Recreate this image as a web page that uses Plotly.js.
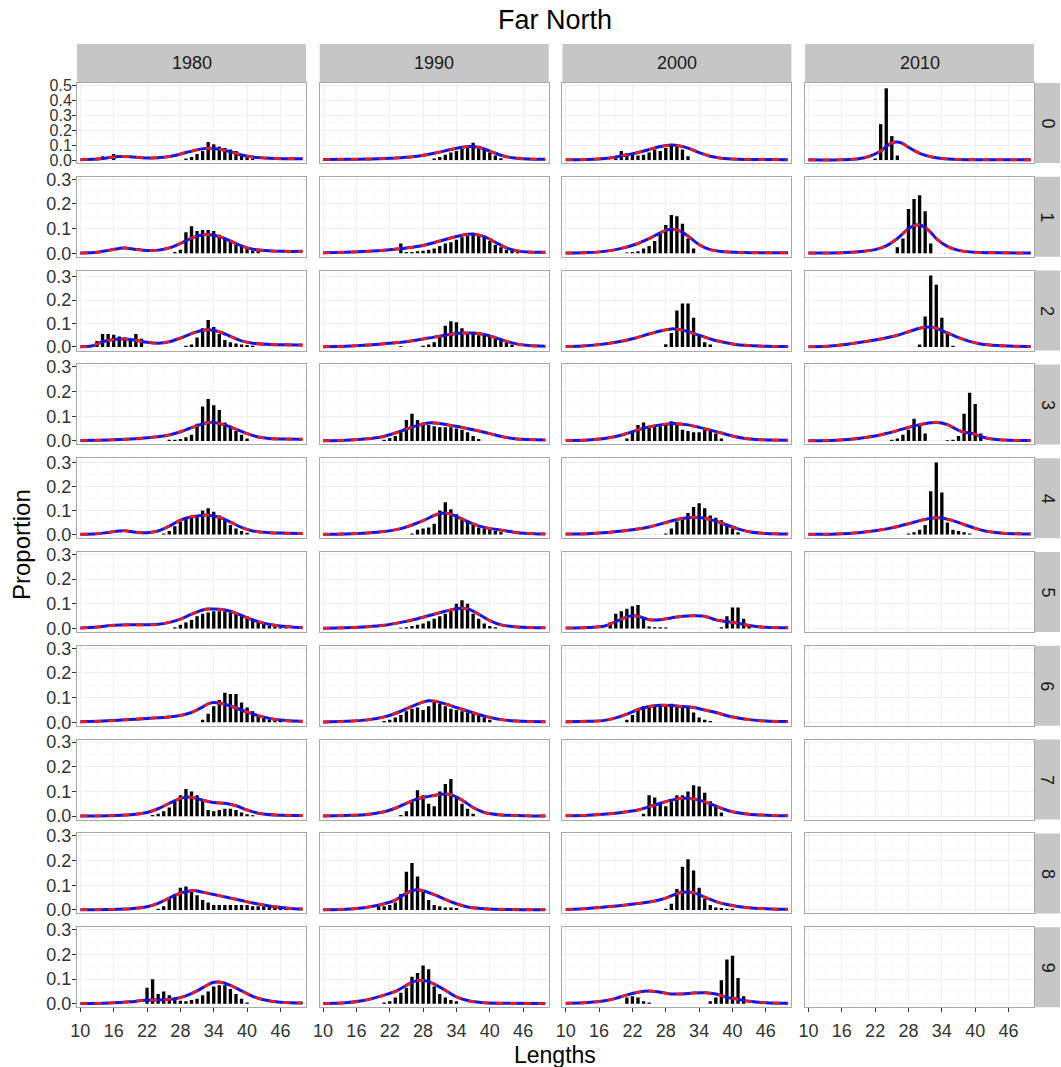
<!DOCTYPE html>
<html><head><meta charset="utf-8">
<script src="https://cdn.plot.ly/plotly-3.0.1.min.js"></script>
<style>html,body{margin:0;padding:0;background:#fff}</style>
</head><body><div id="chart" style="width:1061px;height:1067px"></div>
<script>
const years = ['1980','1990','2000','2010'];
const ages = ['0','1','2','3','4','5','6','7','8','9'];
const xTicks = [10,16,22,28,34,40,46];

// observed proportions: [length, proportion]
const bars_1980_0 = [[14,0.025],[16,0.04],[29,0.01],[30,0.02],[31,0.04],[32,0.06],[33,0.12],[34,0.105],[35,0.09],[36,0.08],[37,0.07],[38,0.06],[39,0.04],[40,0.02],[41,0.01]];
const bars_1990_0 = [[30,0.01],[31,0.02],[32,0.035],[33,0.05],[34,0.06],[35,0.075],[36,0.09],[37,0.115],[38,0.09],[39,0.07],[40,0.05],[41,0.03],[42,0.012]];
const bars_2000_0 = [[19,0.01],[20,0.06],[21,0.045],[22,0.04],[23,0.03],[24,0.035],[25,0.05],[26,0.07],[27,0.06],[28,0.08],[29,0.1],[30,0.09],[31,0.07],[32,0.025]];
const bars_2010_0 = [[22,0.01],[23,0.24],[24,0.48],[25,0.16],[26,0.03]];
const bars_1980_1 = [[27,0.005],[28,0.015],[29,0.085],[30,0.11],[31,0.09],[32,0.095],[33,0.095],[34,0.09],[35,0.075],[36,0.06],[37,0.05],[38,0.04],[39,0.03],[40,0.02],[41,0.012],[42,0.008]];
const bars_1990_1 = [[24,0.04],[25,0.005],[26,0.005],[27,0.008],[28,0.01],[29,0.015],[30,0.02],[31,0.03],[32,0.04],[33,0.045],[34,0.055],[35,0.065],[36,0.07],[37,0.075],[38,0.075],[39,0.065],[40,0.05],[41,0.035],[42,0.025],[43,0.015],[44,0.01],[45,0.005]];
const bars_2000_1 = [[21,0.003],[22,0.005],[23,0.008],[24,0.02],[25,0.03],[26,0.05],[27,0.085],[28,0.115],[29,0.155],[30,0.15],[31,0.12],[32,0.06],[33,0.02]];
const bars_2010_1 = [[26,0.025],[27,0.06],[28,0.18],[29,0.22],[30,0.235],[31,0.17],[32,0.04]];
const bars_1980_2 = [[13,0.025],[14,0.055],[15,0.055],[16,0.052],[17,0.045],[18,0.04],[19,0.035],[20,0.055],[21,0.035],[29,0.005],[30,0.01],[31,0.04],[32,0.08],[33,0.115],[34,0.085],[35,0.055],[36,0.03],[37,0.02],[38,0.015],[39,0.01],[40,0.008],[41,0.005]];
const bars_1990_2 = [[24,0.003],[28,0.005],[29,0.01],[30,0.02],[31,0.05],[32,0.09],[33,0.11],[34,0.105],[35,0.08],[36,0.06],[37,0.055],[38,0.05],[39,0.05],[40,0.045],[41,0.04],[42,0.03],[43,0.02],[44,0.01]];
const bars_2000_2 = [[28,0.012],[29,0.06],[30,0.155],[31,0.185],[32,0.185],[33,0.125],[34,0.05],[35,0.02],[36,0.01]];
const bars_2010_2 = [[30,0.01],[31,0.13],[32,0.305],[33,0.265],[34,0.125],[35,0.06],[36,0.005]];
const bars_1980_3 = [[26,0.005],[27,0.005],[28,0.008],[29,0.015],[30,0.025],[31,0.07],[32,0.14],[33,0.17],[34,0.145],[35,0.125],[36,0.075],[37,0.055],[38,0.04],[39,0.025],[40,0.01]];
const bars_1990_3 = [[21,0.005],[22,0.012],[23,0.02],[24,0.035],[25,0.085],[26,0.11],[27,0.085],[28,0.075],[29,0.065],[30,0.06],[31,0.055],[32,0.055],[33,0.055],[34,0.05],[35,0.045],[36,0.035],[37,0.02],[38,0.008]];
const bars_2000_3 = [[21,0.01],[22,0.035],[23,0.065],[24,0.075],[25,0.06],[26,0.06],[27,0.06],[28,0.07],[29,0.08],[30,0.07],[31,0.045],[32,0.04],[33,0.035],[34,0.035],[35,0.045],[36,0.045],[37,0.03],[38,0.01]];
const bars_2010_3 = [[25,0.005],[26,0.01],[27,0.025],[28,0.045],[29,0.09],[30,0.065],[31,0.03],[35,0.003],[36,0.005],[37,0.02],[38,0.11],[39,0.195],[40,0.15],[41,0.03]];
const bars_1980_4 = [[25,0.005],[26,0.015],[27,0.035],[28,0.055],[29,0.07],[30,0.075],[31,0.075],[32,0.1],[33,0.11],[34,0.095],[35,0.08],[36,0.06],[37,0.04],[38,0.025],[39,0.015],[40,0.008]];
const bars_1990_4 = [[26,0.005],[27,0.02],[28,0.025],[29,0.03],[30,0.045],[31,0.1],[32,0.135],[33,0.105],[34,0.085],[35,0.07],[36,0.055],[37,0.04],[38,0.03],[39,0.025],[40,0.02],[41,0.015],[42,0.01]];
const bars_2000_4 = [[28,0.005],[29,0.025],[30,0.055],[31,0.07],[32,0.09],[33,0.115],[34,0.13],[35,0.11],[36,0.08],[37,0.07],[38,0.06],[39,0.045],[40,0.025],[41,0.01]];
const bars_2010_4 = [[28,0.005],[29,0.01],[30,0.02],[31,0.04],[32,0.18],[33,0.3],[34,0.175],[35,0.05],[36,0.02],[37,0.015],[38,0.01],[39,0.005]];
const bars_1980_5 = [[27,0.005],[28,0.015],[29,0.025],[30,0.035],[31,0.05],[32,0.06],[33,0.065],[34,0.07],[35,0.07],[36,0.07],[37,0.065],[38,0.06],[39,0.055],[40,0.05],[41,0.04],[42,0.03],[43,0.02],[44,0.012],[45,0.008],[46,0.005],[47,0.003]];
const bars_1990_5 = [[24,0.003],[25,0.005],[26,0.01],[27,0.015],[28,0.02],[29,0.03],[30,0.04],[31,0.05],[32,0.06],[33,0.075],[34,0.1],[35,0.115],[36,0.1],[37,0.06],[38,0.04],[39,0.02],[40,0.01],[41,0.005]];
const bars_2000_5 = [[18,0.025],[19,0.06],[20,0.07],[21,0.08],[22,0.09],[23,0.095],[24,0.04],[25,0.008],[26,0.005],[27,0.005],[28,0.004],[38,0.005],[39,0.05],[40,0.085],[41,0.085],[42,0.04],[43,0.015]];
const bars_1980_6 = [[32,0.01],[33,0.035],[34,0.065],[35,0.09],[36,0.12],[37,0.115],[38,0.115],[39,0.08],[40,0.06],[41,0.045],[42,0.03],[43,0.02],[44,0.012],[45,0.008],[46,0.005]];
const bars_1990_6 = [[21,0.005],[22,0.01],[23,0.02],[24,0.03],[25,0.045],[26,0.055],[27,0.06],[28,0.05],[29,0.065],[30,0.085],[31,0.075],[32,0.065],[33,0.055],[34,0.05],[35,0.045],[36,0.04],[37,0.035],[38,0.03],[39,0.02],[40,0.01]];
const bars_2000_6 = [[21,0.01],[22,0.03],[23,0.055],[24,0.065],[25,0.07],[26,0.07],[27,0.07],[28,0.07],[29,0.075],[30,0.07],[31,0.07],[32,0.06],[33,0.04],[34,0.02],[35,0.01],[36,0.005]];
const bars_1980_7 = [[23,0.005],[24,0.01],[25,0.02],[26,0.035],[27,0.06],[28,0.085],[29,0.11],[30,0.1],[31,0.085],[32,0.065],[33,0.025],[34,0.02],[35,0.025],[36,0.03],[37,0.03],[38,0.025],[39,0.015],[40,0.008],[41,0.004]];
const bars_1990_7 = [[24,0.005],[25,0.02],[26,0.06],[27,0.105],[28,0.085],[29,0.05],[30,0.04],[31,0.1],[32,0.13],[33,0.15],[34,0.08],[35,0.05],[36,0.03],[37,0.01]];
const bars_2000_7 = [[24,0.01],[25,0.085],[26,0.075],[27,0.05],[28,0.04],[29,0.06],[30,0.085],[31,0.085],[32,0.1],[33,0.125],[34,0.12],[35,0.095],[36,0.06],[37,0.04],[38,0.015]];
const bars_1980_8 = [[24,0.005],[25,0.015],[26,0.045],[27,0.065],[28,0.09],[29,0.095],[30,0.08],[31,0.06],[32,0.04],[33,0.03],[34,0.02],[35,0.02],[36,0.02],[37,0.02],[38,0.02],[39,0.02],[40,0.02],[41,0.015],[42,0.015],[43,0.015],[44,0.012],[45,0.012],[46,0.01],[47,0.008],[48,0.005]];
const bars_1990_8 = [[20,0.02],[21,0.015],[22,0.02],[23,0.03],[24,0.065],[25,0.155],[26,0.19],[27,0.135],[28,0.08],[29,0.04],[30,0.02],[31,0.015],[32,0.01],[33,0.01],[34,0.008]];
const bars_2000_8 = [[28,0.005],[29,0.025],[30,0.085],[31,0.175],[32,0.205],[33,0.16],[34,0.09],[35,0.045],[36,0.02],[37,0.01],[38,0.008],[39,0.005],[40,0.005]];
const bars_1980_9 = [[22,0.065],[23,0.1],[24,0.04],[25,0.05],[26,0.035],[27,0.02],[28,0.012],[29,0.01],[30,0.015],[31,0.02],[32,0.035],[33,0.05],[34,0.07],[35,0.075],[36,0.075],[37,0.06],[38,0.04],[39,0.02],[40,0.005]];
const bars_1990_9 = [[21,0.005],[22,0.01],[23,0.025],[24,0.045],[25,0.065],[26,0.11],[27,0.125],[28,0.155],[29,0.14],[30,0.07],[31,0.04],[32,0.025],[33,0.015],[34,0.01]];
const bars_2000_9 = [[21,0.025],[22,0.03],[23,0.025],[24,0.01],[25,0.005],[36,0.01],[37,0.025],[38,0.095],[39,0.18],[40,0.195],[41,0.105],[42,0.03]];

// fitted proportions: [length, proportion]
const fit_1980_0 = [[10,0.002],[13,0.006],[15,0.015],[17,0.024],[19,0.022],[21,0.015],[23,0.013],[25,0.018],[27,0.03],[29,0.05],[31,0.068],[33,0.078],[35,0.072],[37,0.055],[39,0.033],[41,0.02],[44,0.012],[47,0.009],[50,0.008]];
const fit_1990_0 = [[10,0.003],[16,0.005],[20,0.008],[24,0.015],[27,0.025],[30,0.045],[33,0.07],[35,0.085],[36,0.09],[38,0.085],[40,0.06],[42,0.032],[44,0.015],[47,0.007],[50,0.005]];
const fit_2000_0 = [[10,0.002],[14,0.004],[17,0.01],[19,0.02],[21,0.035],[23,0.05],[25,0.07],[27,0.09],[29,0.1],[30,0.098],[32,0.08],[34,0.05],[36,0.025],[38,0.012],[41,0.005],[45,0.003],[50,0.002]];
const fit_2010_0 = [[10,0.001],[16,0.002],[19,0.008],[21,0.025],[23,0.06],[24,0.09],[25,0.115],[26,0.12],[27,0.11],[28,0.085],[30,0.045],[32,0.022],[34,0.01],[37,0.004],[42,0.002],[50,0.001]];
const fit_1980_1 = [[10,0.001],[13,0.004],[15,0.012],[17,0.02],[18,0.022],[20,0.016],[22,0.012],[24,0.013],[26,0.022],[28,0.04],[30,0.062],[32,0.075],[33,0.076],[35,0.068],[37,0.05],[39,0.03],[41,0.017],[44,0.01],[47,0.008],[50,0.008]];
const fit_1990_1 = [[10,0.002],[14,0.004],[18,0.008],[22,0.015],[25,0.022],[28,0.032],[31,0.05],[34,0.068],[36,0.077],[37,0.078],[39,0.068],[41,0.045],[43,0.022],[45,0.01],[47,0.005],[50,0.004]];
const fit_2000_1 = [[10,0.001],[14,0.003],[17,0.008],[20,0.02],[23,0.04],[25,0.06],[27,0.083],[28,0.093],[29,0.097],[30,0.095],[31,0.085],[32,0.07],[34,0.035],[36,0.015],[38,0.007],[42,0.003],[50,0.002]];
const fit_2010_1 = [[10,0.001],[16,0.002],[19,0.006],[22,0.015],[24,0.03],[26,0.06],[27,0.08],[28,0.1],[29,0.112],[30,0.115],[31,0.105],[32,0.085],[33,0.06],[35,0.028],[37,0.012],[40,0.004],[45,0.002],[50,0.001]];
const fit_1980_2 = [[10,0.001],[12,0.004],[13,0.012],[14,0.022],[16,0.032],[18,0.034],[20,0.028],[22,0.02],[24,0.016],[26,0.022],[28,0.038],[30,0.057],[32,0.071],[33,0.073],[35,0.065],[37,0.045],[39,0.026],[41,0.016],[44,0.011],[47,0.009],[50,0.008]];
const fit_1990_2 = [[10,0.001],[14,0.003],[18,0.008],[21,0.014],[24,0.02],[27,0.03],[30,0.042],[33,0.054],[35,0.059],[37,0.059],[39,0.053],[41,0.04],[43,0.024],[45,0.012],[47,0.006],[50,0.003]];
const fit_2000_2 = [[10,0.002],[13,0.004],[16,0.01],[19,0.02],[22,0.035],[25,0.055],[27,0.068],[29,0.077],[30,0.076],[32,0.066],[34,0.05],[36,0.034],[38,0.022],[40,0.013],[43,0.006],[46,0.003],[50,0.002]];
const fit_2010_2 = [[10,0.001],[14,0.004],[17,0.012],[20,0.022],[23,0.034],[26,0.05],[28,0.065],[30,0.08],[31,0.085],[32,0.085],[33,0.08],[35,0.06],[37,0.04],[39,0.024],[41,0.013],[44,0.006],[47,0.003],[50,0.002]];
const fit_1980_3 = [[10,0.002],[15,0.004],[19,0.008],[22,0.013],[25,0.02],[27,0.03],[29,0.045],[31,0.062],[33,0.075],[34,0.075],[36,0.065],[38,0.048],[40,0.03],[42,0.016],[44,0.01],[47,0.008],[50,0.007]];
const fit_1990_3 = [[10,0.001],[14,0.003],[17,0.007],[20,0.014],[22,0.025],[24,0.04],[26,0.056],[28,0.068],[29,0.073],[31,0.071],[33,0.063],[35,0.055],[37,0.045],[39,0.035],[41,0.024],[43,0.014],[45,0.008],[50,0.004]];
const fit_2000_3 = [[10,0.002],[14,0.004],[17,0.01],[19,0.018],[21,0.03],[23,0.045],[25,0.057],[27,0.065],[29,0.07],[30,0.07],[32,0.065],[34,0.055],[36,0.044],[38,0.032],[40,0.02],[42,0.011],[45,0.005],[50,0.003]];
const fit_2010_3 = [[10,0.001],[15,0.003],[19,0.01],[22,0.02],[24,0.03],[26,0.042],[28,0.055],[30,0.066],[32,0.074],[33,0.075],[34,0.073],[35,0.066],[36,0.055],[37,0.043],[38,0.036],[39,0.032],[40,0.027],[41,0.018],[43,0.008],[46,0.003],[50,0.002]];
const fit_1980_4 = [[10,0.001],[13,0.004],[15,0.009],[17,0.015],[18,0.016],[20,0.01],[22,0.008],[24,0.015],[26,0.035],[28,0.06],[30,0.074],[32,0.08],[33,0.081],[35,0.072],[37,0.052],[39,0.03],[41,0.015],[44,0.008],[47,0.006],[50,0.005]];
const fit_1990_4 = [[10,0.001],[14,0.003],[18,0.007],[21,0.013],[24,0.025],[26,0.04],[28,0.058],[30,0.08],[31,0.088],[32,0.09],[33,0.085],[35,0.065],[37,0.045],[39,0.03],[41,0.022],[43,0.015],[45,0.008],[48,0.004],[50,0.003]];
const fit_2000_4 = [[10,0.002],[14,0.004],[18,0.01],[22,0.02],[25,0.032],[28,0.05],[30,0.063],[32,0.07],[33,0.072],[35,0.068],[37,0.056],[39,0.04],[41,0.024],[43,0.012],[46,0.005],[50,0.003]];
const fit_2010_4 = [[10,0.001],[15,0.003],[19,0.008],[22,0.016],[25,0.028],[28,0.045],[30,0.058],[32,0.068],[33,0.07],[34,0.069],[36,0.058],[38,0.042],[40,0.026],[42,0.014],[45,0.006],[50,0.003]];
const fit_1980_5 = [[10,0.002],[13,0.006],[16,0.013],[19,0.015],[22,0.015],[24,0.017],[26,0.025],[28,0.038],[30,0.058],[32,0.075],[33,0.079],[35,0.078],[37,0.07],[39,0.053],[41,0.035],[43,0.022],[45,0.013],[48,0.006],[50,0.004]];
const fit_1990_5 = [[10,0.001],[14,0.003],[18,0.007],[21,0.013],[24,0.025],[27,0.04],[30,0.058],[32,0.07],[34,0.08],[35,0.082],[36,0.08],[38,0.058],[40,0.032],[42,0.015],[45,0.006],[50,0.003]];
const fit_2000_5 = [[10,0.002],[14,0.004],[17,0.01],[19,0.028],[21,0.047],[22,0.052],[23,0.05],[25,0.036],[27,0.036],[29,0.043],[31,0.05],[33,0.052],[35,0.05],[37,0.035],[39,0.028],[41,0.022],[43,0.012],[46,0.005],[50,0.003]];
const fit_1980_6 = [[10,0.002],[14,0.005],[18,0.01],[22,0.016],[26,0.022],[28,0.028],[30,0.04],[32,0.062],[33,0.075],[34,0.08],[36,0.073],[38,0.058],[40,0.042],[42,0.027],[44,0.016],[47,0.007],[50,0.004]];
const fit_1990_6 = [[10,0.001],[14,0.004],[18,0.01],[21,0.022],[24,0.045],[26,0.065],[28,0.082],[29,0.087],[30,0.086],[32,0.075],[34,0.06],[36,0.046],[38,0.032],[40,0.02],[42,0.011],[45,0.005],[50,0.002]];
const fit_2000_6 = [[10,0.002],[14,0.004],[17,0.008],[19,0.018],[21,0.033],[23,0.052],[25,0.064],[27,0.069],[29,0.068],[31,0.064],[33,0.06],[35,0.05],[37,0.04],[39,0.027],[41,0.018],[43,0.011],[46,0.005],[50,0.003]];
const fit_1980_7 = [[10,0.001],[15,0.002],[19,0.006],[22,0.015],[24,0.03],[26,0.052],[28,0.072],[29,0.077],[30,0.076],[32,0.065],[34,0.055],[36,0.052],[38,0.042],[40,0.025],[42,0.012],[45,0.005],[50,0.003]];
const fit_1990_7 = [[10,0.001],[14,0.003],[18,0.007],[21,0.018],[23,0.032],[25,0.052],[27,0.07],[29,0.08],[31,0.088],[32,0.09],[33,0.087],[35,0.065],[37,0.035],[39,0.015],[42,0.005],[46,0.002],[50,0.001]];
const fit_2000_7 = [[10,0.002],[14,0.004],[18,0.01],[21,0.018],[23,0.025],[25,0.038],[27,0.052],[29,0.065],[31,0.072],[32,0.072],[34,0.065],[36,0.05],[38,0.032],[40,0.018],[43,0.008],[47,0.003],[50,0.002]];
const fit_1980_8 = [[10,0.001],[15,0.002],[19,0.005],[22,0.013],[24,0.027],[26,0.048],[28,0.068],[30,0.078],[31,0.077],[33,0.067],[35,0.058],[37,0.048],[39,0.038],[41,0.028],[43,0.02],[45,0.013],[48,0.006],[50,0.004]];
const fit_1990_8 = [[10,0.001],[14,0.003],[17,0.008],[19,0.015],[21,0.025],[23,0.04],[25,0.068],[26,0.078],[27,0.082],[28,0.078],[30,0.062],[32,0.043],[34,0.025],[36,0.012],[39,0.005],[43,0.002],[50,0.001]];
const fit_2000_8 = [[10,0.002],[14,0.006],[17,0.012],[20,0.018],[23,0.026],[26,0.036],[28,0.048],[30,0.066],[31,0.072],[32,0.073],[33,0.07],[35,0.052],[37,0.034],[39,0.022],[41,0.014],[44,0.007],[47,0.004],[50,0.003]];
const fit_1980_9 = [[10,0.001],[15,0.003],[19,0.008],[21,0.013],[23,0.015],[25,0.016],[27,0.02],[29,0.032],[31,0.052],[33,0.078],[34,0.087],[35,0.088],[37,0.075],[39,0.052],[41,0.03],[43,0.016],[46,0.006],[50,0.003]];
const fit_1990_9 = [[10,0.001],[14,0.004],[17,0.012],[19,0.022],[21,0.035],[23,0.05],[25,0.075],[26,0.087],[27,0.094],[28,0.095],[29,0.09],[30,0.08],[32,0.055],[34,0.028],[36,0.013],[39,0.004],[43,0.002],[50,0.001]];
const fit_2000_9 = [[10,0.002],[14,0.005],[17,0.012],[19,0.022],[21,0.036],[23,0.047],[25,0.052],[27,0.047],[29,0.04],[31,0.04],[33,0.044],[35,0.045],[37,0.04],[38,0.033],[39,0.025],[40,0.022],[41,0.018],[43,0.01],[46,0.004],[50,0.002]];

const barTable = {
 '1980_0':bars_1980_0,'1990_0':bars_1990_0,'2000_0':bars_2000_0,'2010_0':bars_2010_0,
 '1980_1':bars_1980_1,'1990_1':bars_1990_1,'2000_1':bars_2000_1,'2010_1':bars_2010_1,
 '1980_2':bars_1980_2,'1990_2':bars_1990_2,'2000_2':bars_2000_2,'2010_2':bars_2010_2,
 '1980_3':bars_1980_3,'1990_3':bars_1990_3,'2000_3':bars_2000_3,'2010_3':bars_2010_3,
 '1980_4':bars_1980_4,'1990_4':bars_1990_4,'2000_4':bars_2000_4,'2010_4':bars_2010_4,
 '1980_5':bars_1980_5,'1990_5':bars_1990_5,'2000_5':bars_2000_5,
 '1980_6':bars_1980_6,'1990_6':bars_1990_6,'2000_6':bars_2000_6,
 '1980_7':bars_1980_7,'1990_7':bars_1990_7,'2000_7':bars_2000_7,
 '1980_8':bars_1980_8,'1990_8':bars_1990_8,'2000_8':bars_2000_8,
 '1980_9':bars_1980_9,'1990_9':bars_1990_9,'2000_9':bars_2000_9
};
const fitTable = {
 '1980_0':fit_1980_0,'1990_0':fit_1990_0,'2000_0':fit_2000_0,'2010_0':fit_2010_0,
 '1980_1':fit_1980_1,'1990_1':fit_1990_1,'2000_1':fit_2000_1,'2010_1':fit_2010_1,
 '1980_2':fit_1980_2,'1990_2':fit_1990_2,'2000_2':fit_2000_2,'2010_2':fit_2010_2,
 '1980_3':fit_1980_3,'1990_3':fit_1990_3,'2000_3':fit_2000_3,'2010_3':fit_2010_3,
 '1980_4':fit_1980_4,'1990_4':fit_1990_4,'2000_4':fit_2000_4,'2010_4':fit_2010_4,
 '1980_5':fit_1980_5,'1990_5':fit_1990_5,'2000_5':fit_2000_5,
 '1980_6':fit_1980_6,'1990_6':fit_1990_6,'2000_6':fit_2000_6,
 '1980_7':fit_1980_7,'1990_7':fit_1990_7,'2000_7':fit_2000_7,
 '1980_8':fit_1980_8,'1990_8':fit_1990_8,'2000_8':fit_2000_8,
 '1980_9':fit_1980_9,'1990_9':fit_1990_9,'2000_9':fit_2000_9
};

// ---- layout geometry (pixels) ----
const W = 1061, H = 1067;
const colLeft = [77, 319.7, 562.4, 805.1], colW = 229;
const rowTop0 = 83, rowPitch = 93.8, rowH = 80;
const yRanges = [[-0.02,0.5155],[-0.014,0.31],[-0.0155,0.3255],[-0.014,0.31],[-0.015,0.318],
                 [-0.014,0.31],[-0.014,0.31],[-0.014,0.31],[-0.014,0.31],[-0.014,0.311]];
const FONT = 'Liberation Sans, Arial, Helvetica, sans-serif';
const px = v => v / W, py = v => 1 - v / H;

const traces = [];
const layout = {
  width: W, height: H, margin: {l:0, r:0, t:0, b:0},
  paper_bgcolor: '#fff', plot_bgcolor: '#fff', showlegend: false,
  font: {family: FONT, color: '#333'},
  shapes: [], annotations: []
};

let k = 0;
for (let r = 0; r < ages.length; r++) {
  const top = rowTop0 + r * rowPitch;
  for (let c = 0; c < years.length; c++) {
    k++;
    const sfx = k === 1 ? '' : String(k);
    const xa = 'x' + sfx, ya = 'y' + sfx;
    const yMax = r === 0 ? 0.5 : 0.3;
    const yTicks = []; for (let t = 0; t <= yMax + 1e-9; t += 0.1) yTicks.push(+t.toFixed(1));
    const yMinor = yTicks.map(t => +(t + 0.05).toFixed(2)).filter(t => t < yRanges[r][1]);
    const last = r === ages.length - 1;
    layout['xaxis' + sfx] = {
      domain: [px(colLeft[c]), px(colLeft[c] + colW)], anchor: ya,
      range: [9.4, 50.6], tickvals: xTicks, ticktext: xTicks.map(String),
      showticklabels: last, ticks: last ? 'outside' : '', ticklabelstandoff: 3,
      ticklen: 4, tickcolor: '#333', tickfont: {size: 18, color: '#333', family: FONT},
      showgrid: true, gridcolor: '#efefef', gridwidth: 1, zeroline: false,
      minor: {tickvals: [13,19,25,31,37,43,49], showgrid: true, gridcolor: '#f7f7f7', gridwidth: 0.6},
      showline: true, mirror: true, linecolor: '#a9a9a9', linewidth: 1, fixedrange: true
    };
    layout['yaxis' + sfx] = {
      domain: [py(top + rowH), py(top)], anchor: xa,
      range: yRanges[r], tickvals: yTicks, ticktext: yTicks.map(t => t.toFixed(1)),
      showticklabels: c === 0, ticks: c === 0 ? 'outside' : '', ticklabelstandoff: -3,
      ticklen: 4, tickcolor: '#333', tickfont: {size: r === 0 ? 16 : 18, color: '#333', family: FONT},
      showgrid: true, gridcolor: '#efefef', gridwidth: 1, zeroline: false,
      minor: {tickvals: yMinor, showgrid: true, gridcolor: '#f7f7f7', gridwidth: 0.6},
      showline: true, mirror: true, linecolor: '#a9a9a9', linewidth: 1, fixedrange: true
    };
    const key = years[c] + '_' + ages[r];
    const b = barTable[key];
    const f = fitTable[key];
    if (b) traces.push({type: 'bar', x: b.map(d => d[0]), y: b.map(d => d[1]), width: 0.6,
      marker: {color: '#000', line: {width: 0}}, xaxis: xa, yaxis: ya, hoverinfo: 'skip'});
    if (f) {
      traces.push({type: 'scatter', mode: 'lines', x: f.map(d => d[0]), y: f.map(d => d[1]),
        line: {color: '#1414e6', width: 3, shape: 'spline', smoothing: 0.9}, xaxis: xa, yaxis: ya, hoverinfo: 'skip'});
      traces.push({type: 'scatter', mode: 'lines', x: f.map(d => d[0]), y: f.map(d => d[1]),
        line: {color: '#f01c1c', width: 2.6, dash: '7px,7px', shape: 'spline', smoothing: 0.9}, xaxis: xa, yaxis: ya, hoverinfo: 'skip'});
    }
    if (!b && !f) {
      // empty panel: keep the axes drawn
      traces.push({type: 'scatter', mode: 'markers', x: [null], y: [null], xaxis: xa, yaxis: ya, hoverinfo: 'skip'});
    }
  }
  // right strip
  layout.shapes.push({type: 'rect', xref: 'paper', yref: 'paper', x0: px(colLeft[3] + colW), x1: px(1060),
    y0: py(top + rowH), y1: py(top), fillcolor: '#c6c6c6', line: {width: 0}, layer: 'below'});
  layout.annotations.push({xref: 'paper', yref: 'paper', x: px(1047.5), y: py(top + rowH / 2),
    text: ages[r], showarrow: false, textangle: 90, font: {size: 18, color: '#1a1a1a', family: FONT},
    xanchor: 'center', yanchor: 'middle'});
}
// top strips
for (let c = 0; c < years.length; c++) {
  layout.shapes.push({type: 'rect', xref: 'paper', yref: 'paper', x0: px(colLeft[c]), x1: px(colLeft[c] + colW),
    y0: py(rowTop0), y1: py(44), fillcolor: '#c6c6c6', line: {width: 0}, layer: 'below'});
  layout.annotations.push({xref: 'paper', yref: 'paper', x: px(colLeft[c] + colW / 2), y: py(63.5),
    text: years[c], showarrow: false, font: {size: 18, color: '#1a1a1a', family: FONT},
    xanchor: 'center', yanchor: 'middle'});
}
// titles
layout.annotations.push({xref: 'paper', yref: 'paper', x: px(555), y: py(20), text: 'Far North',
  showarrow: false, font: {size: 27, color: '#000', family: FONT}, xanchor: 'center', yanchor: 'middle'});
layout.annotations.push({xref: 'paper', yref: 'paper', x: px(555), y: py(1055), text: 'Lengths',
  showarrow: false, font: {size: 23, color: '#000', family: FONT}, xanchor: 'center', yanchor: 'middle'});
layout.annotations.push({xref: 'paper', yref: 'paper', x: px(21), y: py(545), text: 'Proportion',
  showarrow: false, textangle: -90, font: {size: 24, color: '#000', family: FONT}, xanchor: 'center', yanchor: 'middle'});

Plotly.newPlot('chart', traces, layout, {staticPlot: true, displayModeBar: false});
</script>
</body></html>
